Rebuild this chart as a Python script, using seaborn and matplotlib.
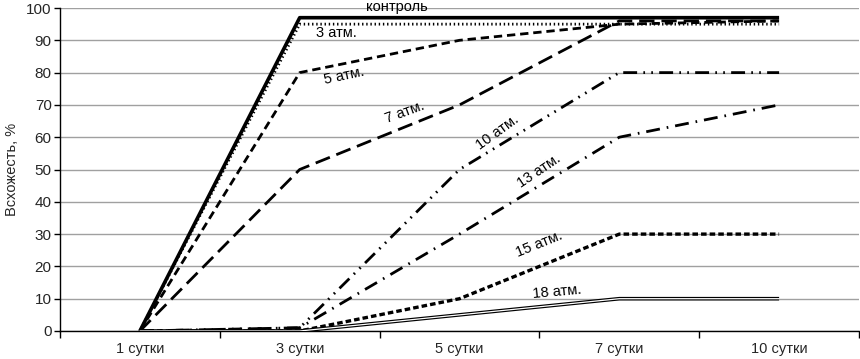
import matplotlib

matplotlib.use("Agg")
import matplotlib.pyplot as plt
import pandas as pd
import seaborn as sns

DAYS = ["1 сутки", "3 сутки", "5 сутки", "7 сутки", "10 сутки"]

SERIES = ["контроль", "3 атм.", "5 атм.", "7 атм.", "10 атм.", "13 атм.", "15 атм.", "18 атм."]
CONTROL = [0, 97, 97, 97, 97]
ATM_3 = [0, 95, 95, 95, 95]
ATM_5 = [0, 80, 90, 95, 96]
ATM_7 = [0, 50, 70, 96, 96]
ATM_10 = [0, 1, 50, 80, 80]
ATM_13 = [0, 1, 30, 60, 70]
ATM_15 = [0, 0, 10, 30, 30]
ATM_18 = [0, 0, 5, 10, 10]
VALUES = [CONTROL, ATM_3, ATM_5, ATM_7, ATM_10, ATM_13, ATM_15, ATM_18]

# dash patterns in points (scale_dashes off)
STYLES = {
    "контроль": dict(lw=2.6, dashes=None),
    "3 атм.": dict(lw=2.0, dashes=(1.0, 2.0)),
    "5 атм.": dict(lw=2.0, dashes=(6.0, 3.5)),
    "7 атм.": dict(lw=2.0, dashes=(11.0, 5.0)),
    "10 атм.": dict(lw=2.0, dashes=(10.0, 4.5, 1.2, 4.5, 1.2, 4.5)),
    "13 атм.": dict(lw=2.0, dashes=(10.0, 5.0, 1.2, 5.0)),
    "15 атм.": dict(lw=2.4, dashes=(4.0, 2.2)),
    "18 атм.": dict(lw=2.6, dashes=None),
}

# label placement: (x, y, rotation)
LABELS = {
    "контроль": (1.61, 100.2, 0),
    "3 атм.": (1.23, 92.4, 0),
    "5 атм.": (1.28, 79.0, 12),
    "7 атм.": (1.66, 67.8, 20),
    "10 атм.": (2.24, 61.5, 36),
    "13 атм.": (2.50, 49.5, 34),
    "15 атм.": (2.50, 27.0, 22),
    "18 атм.": (2.61, 12.0, 5),
}


def main() -> None:
    sns.set_theme(style="white")
    plt.rcParams["font.family"] = ["Liberation Sans", "DejaVu Sans"]
    plt.rcParams["lines.scale_dashes"] = False

    frame = pd.DataFrame(
        [
            {"series": name, "x": i, "day": DAYS[i], "value": v}
            for name, vals in zip(SERIES, VALUES)
            for i, v in enumerate(vals)
        ]
    )

    fig = plt.figure(figsize=(8.6, 3.59), dpi=100)
    ax = fig.add_axes([60 / 860, 28 / 359, 799 / 860, 323 / 359])

    for name in SERIES:
        sub = frame[frame["series"] == name]
        st = STYLES[name]
        line_ax = sns.lineplot(
            data=sub, x="x", y="value", color="black", lw=st["lw"],
            ax=ax, zorder=3, solid_capstyle="butt",
        )
        line = line_ax.lines[-1]
        if st["dashes"] is not None:
            line.set_dashes(st["dashes"])
        if name == "18 атм.":
            sns.lineplot(data=sub, x="x", y="value", color="white", lw=0.9,
                         ax=ax, zorder=4)

    for name, (x, y, rot) in LABELS.items():
        ax.text(x, y, name, rotation=rot, ha="center", va="center",
                fontsize=10.5, color="black", zorder=5,
                rotation_mode="anchor")

    ax.set_xlim(-0.5, 4.5)
    ax.set_ylim(0, 100)
    ax.set_yticks(range(0, 101, 10))
    ax.yaxis.grid(True, color="#a0a0a0", lw=1)
    ax.set_axisbelow(True)
    ax.set_xticks(range(len(DAYS)))
    ax.set_xticklabels(DAYS, fontsize=10.5)
    ax.set_xticks([i - 0.5 for i in range(len(DAYS) + 1)], minor=True)
    ax.tick_params(axis="x", which="major", length=0, pad=8)
    ax.tick_params(axis="x", which="minor", length=5, width=1, color="black",
                   direction="out", bottom=True)
    ax.tick_params(axis="y", length=4, width=1, color="black", direction="out",
                   left=True, labelsize=11, pad=2)
    ax.set_xlabel("")
    ax.set_ylabel("Всхожесть, %", fontsize=10.5, labelpad=5)

    for side in ["top", "right"]:
        ax.spines[side].set_visible(False)
    for side in ["left", "bottom"]:
        ax.spines[side].set_color("black")
        ax.spines[side].set_linewidth(1)

    fig.savefig("out.png", dpi=100)
    plt.close(fig)


if __name__ == "__main__":
    main()
